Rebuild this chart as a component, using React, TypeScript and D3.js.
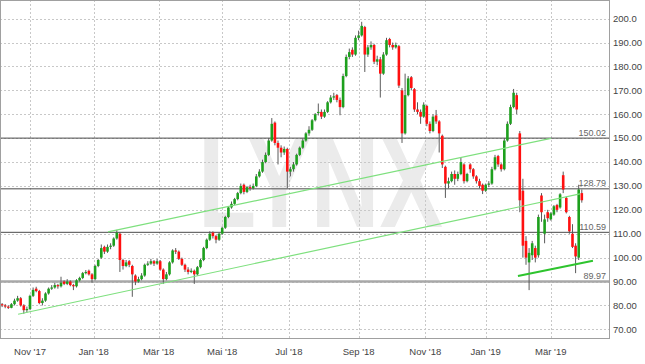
import * as d3 from 'd3'

// one candle = two trading days; day index of candle i is 2*i
const opens = [
  80.5, 80, 79.5, 79, 80.5, 82, 83, 80, 78, 78.5,
  84, 87, 86, 81, 82, 85, 87, 87.5, 88.5, 88,
  90, 89, 90, 88.5, 88, 90.5, 91.5, 93.5, 94.5, 93,
  91, 96.5, 100, 104.5, 102.5, 104.5, 105, 108, 110, 99,
  96.5, 98.5, 96.5, 92.5, 90, 91, 92.5, 97, 97.5, 98.5,
  97.5, 98.5, 95, 91, 93, 98, 103, 102.5, 99.5, 97,
  95, 94, 94.5, 93, 96, 99, 104, 107.5, 110.5, 109,
  107.5, 110, 112.5, 117, 121, 122.5, 124.5, 127, 130.5, 127.5,
  129.5, 129, 130, 134, 136, 140, 143, 149, 156.5, 148,
  146, 144, 145.5, 136, 137, 139, 143, 146, 149, 152,
  153.5, 157.5, 160.5, 161, 159, 161, 165, 167, 168, 166,
  163, 176, 184, 187, 185, 192, 193, 196.5, 185, 188,
  189, 182, 183, 177, 185, 191.5, 189, 188, 188.5, 170,
  152, 168, 175.5, 170.5, 162, 161, 159, 163.5, 156, 153,
  159.5, 157, 151, 138, 131, 132, 135, 133, 135, 139,
  132, 139, 137, 134, 132, 130.5, 128, 130.5, 131, 137,
  142.5, 139, 137, 149, 156, 163, 168, 152, 128, 107,
  98, 101, 104, 101, 126, 110, 119, 116, 118, 122,
  121, 134.5, 125, 117, 110, 105, 100, 127,
]
const highs = [
  81, 80.6, 80, 81, 82.8, 84, 83.5, 80.5, 79.5, 84.5,
  87.5, 87.8, 86.5, 83, 85.5, 87.5, 88.5, 89.5, 89, 92,
  90.5, 91, 90.5, 89, 91, 92, 94, 94.8, 95, 93.5,
  97, 99.5, 105.5, 105, 105.5, 106, 108.5, 111.6, 110.5, 99.5,
  99, 99, 97, 93, 92, 93.5, 97.5, 98.5, 99.5, 99,
  99.5, 99, 95.5, 94, 98.5, 103.5, 104, 103, 100, 97.5,
  96, 95.5, 95, 96.5, 99.5, 104.5, 108, 111, 111, 109.5,
  110.5, 113, 117.5, 121.5, 123.5, 125, 127.5, 131, 131, 130,
  130.5, 131, 135, 137, 141, 144, 150, 158.4, 157, 149,
  147, 146.5, 146, 138, 140, 143.5, 146.5, 150, 152.5, 155,
  158, 160.5, 164.5, 162, 162, 165.5, 168, 169, 168.5, 167,
  177, 185, 187.5, 188, 193, 195, 198.7, 197, 189, 190.5,
  189.5, 184.5, 184, 186, 192, 192, 190, 190, 189, 171,
  177, 176, 176, 171, 165, 162, 165, 164, 157, 160,
  161.8, 157.5, 151.5, 138.5, 133.5, 136, 136.5, 136, 142, 139.5,
  135.5, 139.5, 137.5, 134.5, 133, 131, 131, 132, 138, 143,
  143, 139.5, 150, 157, 164, 170.6, 169, 153, 133, 109,
  104, 107, 105, 118, 127, 118, 120, 119, 122, 122.5,
  127, 136, 125.5, 117.5, 114, 106, 130.5, 128.5,
]
const lows = [
  79.3, 78.8, 78.5, 78.8, 80, 81.5, 79.5, 76.5, 77, 78,
  83.5, 85.5, 80.5, 80, 81.5, 84.5, 86.5, 87, 87, 87.5,
  88.5, 88.5, 88, 86.4, 87.5, 90, 91, 93, 92.5, 89.5,
  90.5, 96, 99.5, 101.5, 102, 103.5, 104.5, 107.5, 94, 95,
  96, 96, 83.6, 88.5, 89.5, 90.5, 92, 96.5, 97, 96.5,
  97, 94.5, 89, 90.5, 92.5, 97.5, 101.5, 99, 96.5, 94,
  93, 93.5, 89, 92.5, 95.5, 98.5, 103.5, 107, 108, 106,
  107, 109.5, 112, 116.5, 120.5, 122, 124, 126.5, 126.5, 127,
  128, 128.5, 129.5, 133.5, 135.5, 139.5, 142.5, 148.5, 147, 139,
  142, 143, 129, 134, 136, 138.5, 142.5, 145.5, 148.5, 151,
  153, 157, 159.5, 158, 158.5, 160.5, 164.5, 166, 165, 159.6,
  162.5, 175.5, 183, 184, 184.5, 191, 192.5, 177.7, 184, 187,
  181, 180.5, 167, 176.5, 184.5, 188, 187, 187.5, 171, 148,
  151.5, 167.5, 170, 161, 160, 156, 158.5, 155, 152, 152.5,
  156, 144, 137.5, 125, 129, 131.5, 130.5, 132, 134.5, 131,
  131.5, 135.5, 133, 131, 129, 126.6, 127.5, 129.5, 130.5, 136.5,
  138, 136, 136.5, 148.5, 155.5, 162.5, 160, 119, 100, 97,
  86.4, 99, 98, 100, 115, 106, 115, 115.5, 117.5, 119,
  120.5, 127, 118.5, 110, 104, 93.5, 99, 123,
]
const closes = [
  80, 79.5, 79, 80.5, 82, 83, 80, 78, 78.5, 84,
  86.5, 86, 81, 82, 85, 87, 87.5, 88.5, 88, 89.5,
  89, 90, 88.5, 88, 90.5, 91.5, 93.5, 94, 93, 91,
  96.5, 99, 104, 102.5, 104.5, 105, 108, 110.5, 99, 96.5,
  98, 97, 93, 90, 91, 92.5, 97, 97.5, 98.5, 97.5,
  98.5, 95, 91, 93, 98, 103, 102.5, 99.5, 97, 95,
  94, 94.5, 93, 96, 99, 104, 107.5, 110, 109, 107.5,
  110, 112.5, 117, 121, 122.5, 124.5, 127, 130, 127.5, 129.5,
  129, 130, 134, 136, 140, 143, 149, 156, 148, 146,
  144, 145.5, 136, 137, 139, 143, 146, 149, 152, 153.5,
  157.5, 160, 161, 159, 161, 165, 167, 167.5, 166, 163,
  176, 184, 186, 185, 192, 193, 197, 185, 188, 189,
  182, 183, 177, 185, 191, 189, 188, 189, 172, 152,
  168, 175, 171, 162, 161, 159, 164, 156, 153, 159,
  157, 152, 139, 131, 132, 135, 133, 135, 140, 132,
  135, 137, 134, 132, 130, 128, 130.5, 131, 137, 142,
  139, 137, 149, 156, 163, 169, 162, 124, 105, 100,
  102, 106, 100, 117, 119, 116, 116.5, 118.5, 121.5, 120,
  126.5, 128.5, 119, 111, 104.5, 100.5, 128.5, 124,
]

// month ticks, in trading days
const monthDays = [18, 59, 101, 142, 185, 230, 273, 312, 354]
const monthLabels = ["Nov '17", "Jan '18", "Mär '18", "Mai '18", "Jul '18", "Sep '18", "Nov '18", "Jan '19", "Mär '19"]

const priceTicks = [70, 80, 90, 100, 110, 120, 130, 140, 150, 160, 170, 180, 190, 200]
const priceLabels = ['70.00', '80.00', '90.00', '100.00', '110.00', '120.00', '130.00', '140.00', '150.00', '160.00', '170.00', '180.00', '190.00', '200.0']

const levels = [150.02, 128.79, 110.59, 89.97]
const levelLabels = ['150.02', '128.79', '110.59', '89.97']

// trend lines: [day, price] pairs
const lowerChannel = [[10.3, 76.3], [372.8, 126.7]]
const upperChannel = [[68.3, 110.8], [354.1, 149.9]]
const supportLine = [[332.8, 92.3], [381.2, 98.7]]

const W = 645
const H = 364
const plotR = 609.5
const plotB = 338.5

export default function App() {
  const x = d3.scaleLinear().domain([0, 374]).range([2.1, 581.8])
  const y = d3.scaleLinear().domain([70, 200]).range([329.3, 18.7])
  const line = d3.line<number[]>().x(d => x(d[0])).y(d => y(d[1]))

  const font = "'Liberation Sans', Arial, sans-serif"

  return (
    <svg width={W} height={H} style={{ position: 'absolute', left: 0, top: 0, background: '#fff' }}>
      <defs>
        <clipPath id="plot">
          <rect x={0.5} y={0.5} width={plotR - 0.5} height={plotB - 0.5} />
        </clipPath>
      </defs>
      <rect width={W} height={H} fill="#fff" />

      <g clipPath="url(#plot)">
        <text x={198} y={227} fontFamily={font} fontWeight="bold" fontSize={128}
          fill="#ebebeb" textLength={245} lengthAdjust="spacingAndGlyphs">LYNX</text>

        {priceTicks.map(t => (
          <line key={'h' + t} x1={0} x2={plotR} y1={Math.round(y(t)) + 0.5} y2={Math.round(y(t)) + 0.5}
            stroke="#c8c8c8" strokeDasharray="2,2" />
        ))}
        {monthDays.map(d => (
          <line key={'v' + d} x1={Math.round(x(d)) + 0.5} x2={Math.round(x(d)) + 0.5} y1={0} y2={plotB}
            stroke="#c8c8c8" strokeDasharray="2,2" />
        ))}

        {levels.map((lv, i) => (
          <g key={'l' + lv}>
            <line x1={0} x2={plotR} y1={y(lv)} y2={y(lv)}
              stroke={i === 3 ? '#a8a8a8' : '#4a4a4a'} strokeWidth={i === 3 ? 2.5 : 1} />
            <text x={606} y={y(lv) - 2.5} textAnchor="end" fontFamily={font} fontSize={9} fill="#666">
              {levelLabels[i]}
            </text>
          </g>
        ))}

        {closes.map((c, i) => {
          const o = opens[i]
          const cx = x(i * 2)
          const up = c >= o
          const top = y(Math.max(o, c))
          const h = Math.max(1, Math.abs(y(o) - y(c)))
          return (
            <g key={'c' + i}>
              <line x1={cx} x2={cx} y1={y(highs[i])} y2={y(lows[i])} stroke="#5a5a5a" strokeWidth={1} />
              <rect x={cx - 1.3} y={top} width={2.6} height={h} fill={up ? '#1da01d' : '#ff1010'} />
            </g>
          )
        })}

        <path d={line(lowerChannel) || ''} stroke="#7ee07e" strokeWidth={1.2} fill="none" />
        <path d={line(upperChannel) || ''} stroke="#7ee07e" strokeWidth={1.2} fill="none" />
        <path d={line(supportLine) || ''} stroke="#2ec42e" strokeWidth={2} fill="none" />
      </g>

      <rect x={0.5} y={0.5} width={plotR - 0.5} height={plotB - 0.5} fill="none" stroke="#a0a0a0" />

      {priceTicks.map((t, i) => (
        <text key={'yl' + t} x={613} y={y(t)} dy="0.35em" fontFamily={font} fontSize={9.5} fill="#444">
          {priceLabels[i]}
        </text>
      ))}
      {monthDays.map((d, i) => (
        <text key={'xl' + d} x={x(d)} y={352} dy="0.35em" textAnchor="middle" fontFamily={font} fontSize={9.5} fill="#444">
          {monthLabels[i]}
        </text>
      ))}
    </svg>
  )
}
